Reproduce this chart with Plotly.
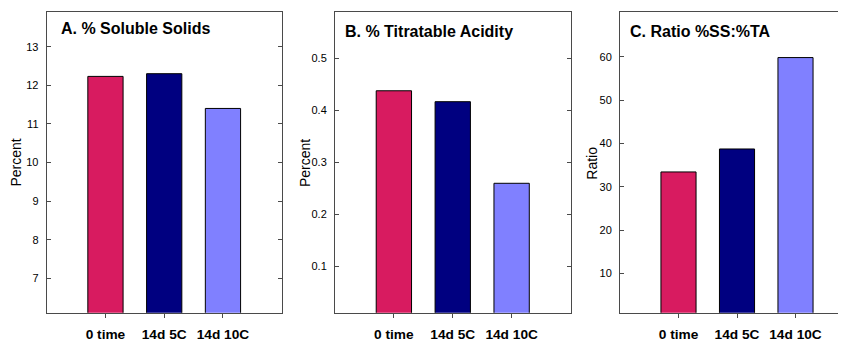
import plotly.graph_objects as go

categories = ["0 time", "14d 5C", "14d 10C"]
soluble_solids = [12.23, 12.30, 11.40]
titratable_acidity = [0.438, 0.417, 0.260]
ratio_ss_ta = [33.4, 38.7, 59.8]
bar_colors = ["#D81B60", "#000080", "#8080FF"]

ticks_a = [7, 8, 9, 10, 11, 12, 13]
ticks_b = [0.1, 0.2, 0.3, 0.4, 0.5]
ticks_c = [10, 20, 30, 40, 50, 60]

W, H = 846, 342
OFF = 8  # page body margin
FONT = "Liberation Sans, Arial, Helvetica, sans-serif"
LINE = "#4a4a4a"

def px(x):
    return (x - OFF) / W

def py(y):
    return 1 - (y - OFF) / H

fig = go.Figure()
panels = [
    (soluble_solids, "x", "y"),
    (titratable_acidity, "x2", "y2"),
    (ratio_ss_ta, "x3", "y3"),
]
for vals, xa, ya in panels:
    fig.add_trace(go.Bar(
        x=categories, y=vals, xaxis=xa, yaxis=ya, width=0.6,
        marker=dict(color=bar_colors, line=dict(color="black", width=1)),
        showlegend=False, hoverinfo="x+y",
    ))

ydom = [py(312.7), py(12.3)]

def xaxis(dom, rng):
    return dict(domain=dom, range=rng, type="category", showline=True, mirror=True,
                linecolor=LINE, linewidth=1, ticks="outside", ticklen=4, tickcolor=LINE,
                showgrid=False, zeroline=False,
                tickfont=dict(family=FONT, size=13.7, color="black", weight="bold"),
                ticklabelstandoff=5)

def yaxis(rng, tv, mirror, anchor):
    return dict(domain=ydom, range=rng, anchor=anchor, tickvals=tv, showline=True,
                mirror=mirror, linecolor=LINE, linewidth=1, ticks="inside",
                ticklen=4, tickcolor=LINE, showgrid=False, zeroline=False,
                tickfont=dict(family=FONT, size=11, color="black"),
                ticklabelstandoff=5)

fig.update_layout(
    width=W, height=H, margin=dict(l=0, r=0, t=0, b=0),
    paper_bgcolor="white", plot_bgcolor="white",
    font=dict(family=FONT, color="black"),
    xaxis=dict(**xaxis([px(46.7), px(281.7)], [-1, 3]), anchor="y"),
    yaxis=yaxis([6.11, 13.89], ticks_a, "ticks", "x"),
    xaxis2=dict(**xaxis([px(335), px(570.5)], [-1, 3]), anchor="y2"),
    yaxis2=yaxis([0.011, 0.589], ticks_b, "ticks", "x2"),
    xaxis3=dict(**xaxis([px(620), px(846)], [-1, 2.863]), anchor="y3"),
    yaxis3=yaxis([0.91, 70.25], ticks_c, False, "x3"),
)

titles = [
    ("A. % Soluble Solids", 59.3, 28.3),
    ("B. % Titratable Acidity", 342.7, 31.0),
    ("C. Ratio %SS:%TA", 627.7, 31.5),
]
for text, x, y in titles:
    fig.add_annotation(text=text, x=px(x), y=py(y), xref="paper", yref="paper",
                       xanchor="left", yanchor="middle", showarrow=False,
                       font=dict(family=FONT, size=16, color="black", weight="bold"))

ytitles = [("Percent", 15, 162.5), ("Percent", 305, 163), ("Ratio", 591.7, 163)]
for text, x, y in ytitles:
    fig.add_annotation(text=text, x=px(x), y=py(y), xref="paper", yref="paper",
                       xanchor="center", yanchor="middle", showarrow=False, textangle=-90,
                       font=dict(family=FONT, size=14, color="black"))

fig.write_html("out.html")
